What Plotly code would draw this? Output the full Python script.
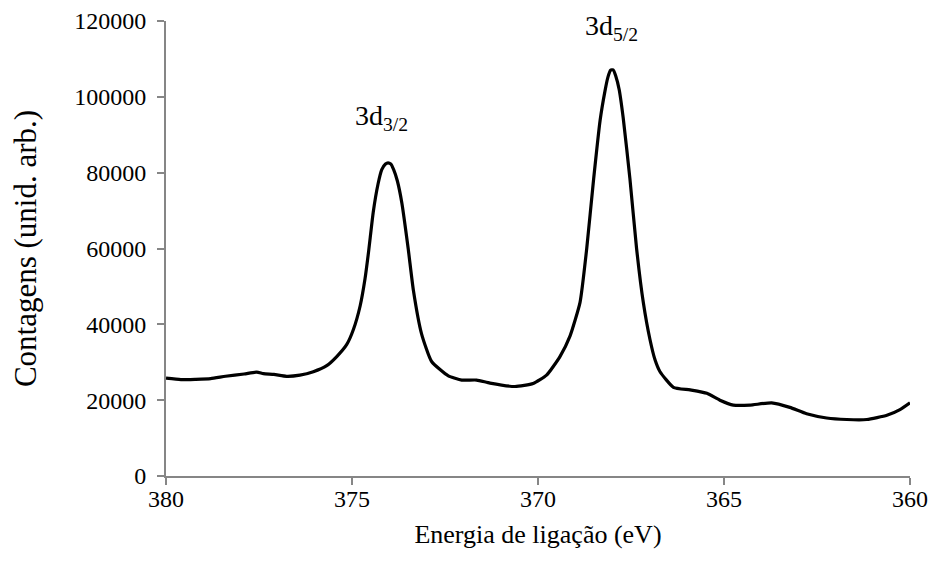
import plotly.graph_objects as go

energy = [380.0, 379.6, 379.2, 378.8, 378.4, 377.9, 377.56, 377.38, 377.1, 376.76,
          376.4, 376.04, 375.68, 375.41, 375.14, 374.96, 374.78, 374.65, 374.55, 374.43,
          374.3, 374.2, 374.1, 374.03, 373.96, 373.88, 373.78, 373.66, 373.49, 373.35,
          373.13, 372.86, 372.41, 372.05, 371.65, 371.29, 370.62, 370.13, 369.77, 369.41,
          369.14, 368.87, 368.69, 368.51, 368.33, 368.2, 368.12, 368.05, 367.98, 367.91,
          367.82, 367.71, 367.53, 367.35, 367.17, 366.99, 366.85, 366.72, 366.36, 365.91,
          365.46, 365.11, 364.75, 364.3, 363.72, 363.23, 362.78, 362.24, 361.7, 361.16,
          360.62, 360.27, 360.0]
counts = [25800, 25400, 25500, 25700, 26300, 26900, 27400, 27000, 26800, 26300,
          26600, 27500, 29100, 31500, 34700, 38700, 44900, 52000, 59500, 69500,
          77000, 80800, 82300, 82600, 82300, 80800, 77800, 72000, 60000, 49000,
          37500, 30200, 26400, 25300, 25300, 24500, 23600, 24400, 26600, 31500,
          36900, 45800, 60000, 77800, 93800, 101500, 105200, 107000, 107100, 105500,
          102000, 94500, 78500, 60000, 45800, 36000, 30500, 27500, 23400, 22700,
          21800, 20000, 18700, 18700, 19300, 18100, 16400, 15300, 14900, 14900,
          16000, 17500, 19300]

peak_labels = ["3d<sub>3/2</sub>", "3d<sub>5/2</sub>"]
peak_x = [374.2, 368.02]
peak_y = [94500, 118300]

x_ticks = [380, 375, 370, 365, 360]
y_ticks = [0, 20000, 40000, 60000, 80000, 100000, 120000]

font = "Liberation Serif, Times New Roman, serif"
axis_col = "#868686"

fig = go.Figure()
fig.add_trace(go.Scatter(x=energy, y=counts, mode="lines",
                         line=dict(color="black", width=3.2, shape="spline", smoothing=0.5),
                         showlegend=False, hoverinfo="skip", cliponaxis=False))

for t, xx, yy in zip(peak_labels, peak_x, peak_y):
    fig.add_annotation(x=xx, y=yy, text=t, showarrow=False,
                       font=dict(family=font, size=28, color="black"),
                       xanchor="center", yanchor="middle")

fig.update_layout(
    width=930, height=561,
    margin=dict(l=166, r=20, t=21, b=85, autoexpand=False),
    paper_bgcolor="white", plot_bgcolor="white",
    font=dict(family=font, color="black", size=24),
    xaxis=dict(range=[380, 360], tickvals=x_ticks, ticktext=[str(v) for v in x_ticks],
               showgrid=False, zeroline=False, showline=True, linecolor=axis_col, linewidth=2,
               ticks="outside", ticklen=7, tickwidth=2, tickcolor=axis_col,
               ticklabelstandoff=-7, automargin=False,
               tickfont=dict(family=font, size=24, color="black"),
               title=dict(text="Energia de ligação (eV)", font=dict(family=font, size=26), standoff=14)),
    yaxis=dict(range=[0, 120000], tickvals=y_ticks, ticktext=[str(v) for v in y_ticks],
               showgrid=False, zeroline=False, showline=True, linecolor=axis_col, linewidth=2,
               ticks="outside", ticklen=7, tickwidth=2, tickcolor=axis_col,
               ticklabelstandoff=6, automargin=False,
               tickfont=dict(family=font, size=24, color="black"),
               title=dict(text="Contagens (unid. arb.)", font=dict(family=font, size=31), standoff=28)),
)

fig.write_html("out.html")
